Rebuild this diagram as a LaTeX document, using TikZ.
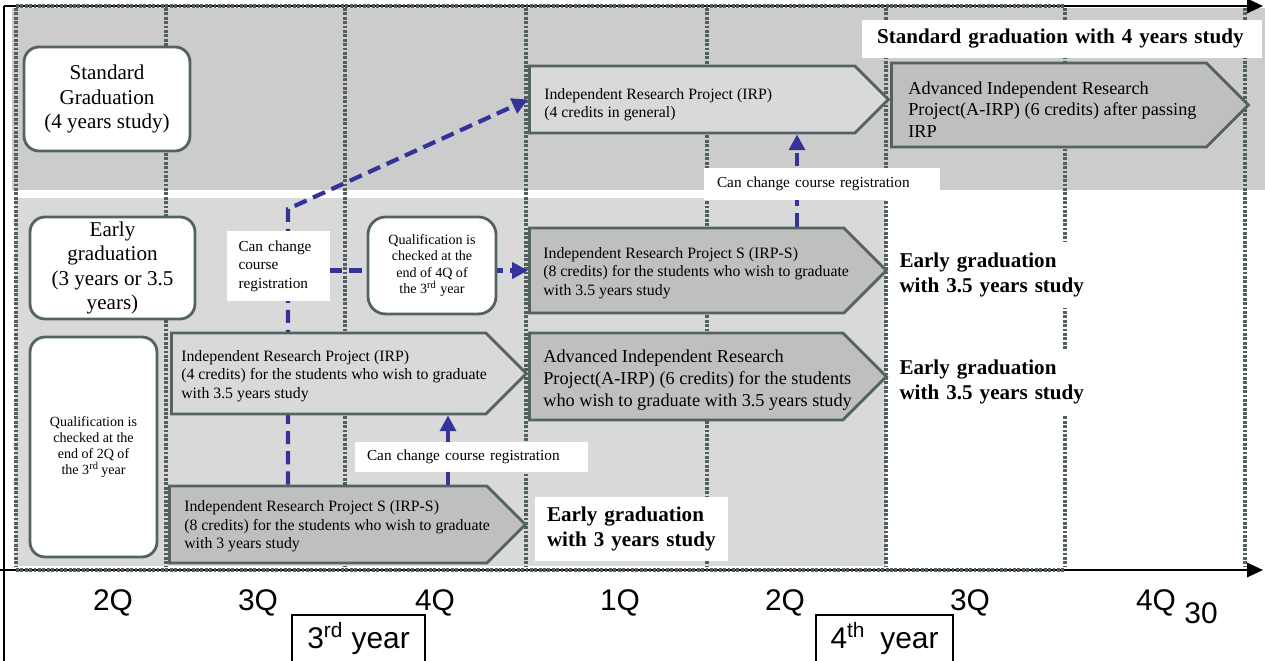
\documentclass[tikz,border=0pt]{standalone}
\usepackage{fontspec}
\setmainfont{Liberation Serif}
\newfontfamily\axisfont{Liberation Sans}
\usetikzlibrary{shapes.symbols,arrows.meta}
\definecolor{band}{RGB}{204,204,204}
\definecolor{lowband}{RGB}{217,217,217}
\definecolor{lightfill}{RGB}{217,217,217}
\definecolor{darkfill}{RGB}{191,191,191}
\definecolor{edge}{RGB}{84,98,98}
\definecolor{dotgray}{RGB}{80,95,95}
\definecolor{linkblue}{RGB}{51,51,153}
\pgfdeclarelayer{back}
\pgfdeclarelayer{mid}
\pgfsetlayers{back,mid,main}
\begin{document}
\begin{tikzpicture}[x=0.02cm, y=-0.02cm,
    qline/.style={draw=dotgray, line width=1.8pt, dash pattern=on 1.6pt off 0.9pt},
    link/.style={color=linkblue, line width=2.4pt, dash pattern=on 7.5pt off 4pt, -{Triangle[width=9pt,length=9pt]}},
    stage/.style={signal, signal to=east, signal pointer angle=90, draw=edge, line width=1.6pt, inner sep=0pt, anchor=west},
    stagetxt/.style={anchor=west, align=left, inner sep=0pt, font=\fontsize{9}{10.5}\selectfont},
    bigtxt/.style={stagetxt, font=\fontsize{10.4}{12.4}\selectfont},
    roundbox/.style={draw=edge, line width=1.6pt, fill=white, rounded corners=0.3cm, align=center, inner sep=0pt, font=\fontsize{12}{13.9}\selectfont},
    qualbox/.style={roundbox, font=\fontsize{8}{9.2}\selectfont},
    wbox/.style={fill=white, align=left, inner ysep=0pt, font=\fontsize{8.7}{10.5}\selectfont},
    goal/.style={wbox, font=\fontsize{12}{14.2}\selectfont\bfseries},
    qlab/.style={font=\axisfont\fontsize{17}{20}\selectfont, inner sep=0pt},
    yearbox/.style={qlab, draw, line width=0.6pt, minimum height=0.96cm}]
  \useasboundingbox (0,0) rectangle (1265,661);
  \begin{pgfonlayer}{back}
    \fill[white] (0,0) rectangle (1265,661);
    \fill[band] (12,8) rectangle (1265,190);
    \fill[lowband] (15,198) rectangle (886,566);
    \foreach \x in {16,166,345,526,707,886,1065,1245} { \draw[qline] (\x,8) -- (\x,567); }
  \end{pgfonlayer}

  % rounded boxes on the left
  \node[roundbox, minimum width=3.32cm, minimum height=2.08cm] (stdbox) at (107,99) {Standard\\Graduation\\(4 years study)};
  \node[roundbox, minimum width=3.3cm, minimum height=2.04cm] (earlybox) at (112.5,268) {Early\\graduation\\(3 years or 3.5\\years)};
  \node[qualbox, minimum width=2.54cm, minimum height=4.4cm] (qual2) at (93.5,447) {Qualification is\\checked at the\\end of 2Q of\\the 3\textsuperscript{rd}\,year};
  \node[qualbox, rounded corners=0.35cm, minimum width=2.56cm, minimum height=1.94cm] (qual4) at (432,265.5) {Qualification is\\checked at the\\end of 4Q of\\the 3\textsuperscript{rd} year};

  % projects
  \node[stage, fill=lightfill, minimum width=7.18cm, minimum height=1.34cm,
    label={[stagetxt, xshift=0.32cm, yshift=-0.1cm]left:{Independent Research Project (IRP)\\(4 credits in general)}}] (irp4) at (528,99.5) {};
  \node[stage, fill=darkfill, minimum width=7.14cm, minimum height=1.68cm,
    label={[bigtxt, xshift=0.36cm, yshift=-0.09cm]left:{Advanced Independent Research\\Project(A-IRP) (6 credits) after passing\\IRP}}] (airp4) at (890,105) {};
  \node[stage, fill=darkfill, minimum width=7.14cm, minimum height=1.7cm,
    label={[stagetxt, xshift=0.3cm, yshift=-0.05cm]left:{Independent Research Project S (IRP-S)\\(8 credits) for the students who wish to graduate\\with 3.5 years study}}] (irps35) at (528,270.5) {};
  \node[stage, fill=darkfill, minimum width=7.14cm, minimum height=1.74cm,
    label={[bigtxt, xshift=0.3cm, yshift=-0.07cm]left:{Advanced Independent Research\\Project(A-IRP) (6 credits) for the students\\who wish to graduate with 3.5 years study}}] (airp35) at (528,376.5) {};
  \node[stage, fill=lightfill, minimum width=7.1cm, minimum height=1.62cm,
    label={[stagetxt, xshift=0.22cm, yshift=-0.05cm]left:{Independent Research Project (IRP)\\(4 credits) for the students who wish to graduate\\with 3.5 years study}}] (irp35) at (170,373.5) {};
  \node[stage, fill=darkfill, minimum width=7.12cm, minimum height=1.54cm,
    label={[stagetxt, xshift=0.32cm, yshift=-0.04cm]left:{Independent Research Project S (IRP-S)\\(8 credits) for the students who wish to graduate\\with 3 years study}}] (irps3) at (168,524.5) {};

  % white notes
  \node[wbox, text width=1.6cm, inner xsep=0.23cm, minimum height=1.4cm] (chg1) at (278.5,266) {Can change\\course\\registration};
  \node[wbox, text width=4.18cm, inner xsep=0.24cm, minimum height=0.6cm] (chg2) at (471.5,457) {Can change course registration};
  \node[wbox, text width=4.2cm, inner xsep=0.26cm, minimum height=0.64cm] (chg3) at (822,184) {Can change course registration};
  \node[goal, text width=7.4cm, inner xsep=0.3cm, minimum height=0.76cm] (std4) at (1062,39) {Standard graduation with 4 years study};
  \node[goal, text width=3.38cm, inner xsep=0.24cm, minimum height=1.28cm] (early3) at (631.5,529) {Early graduation\\with 3 years study};
  \node[goal, text width=3.7cm, inner xsep=0.15cm, minimum height=1.32cm] (early35a) at (992,275) {Early graduation\\with 3.5 years study};
  \node[goal, text width=3.7cm, inner xsep=0.15cm, minimum height=1.32cm] (early35b) at (992,382) {Early graduation\\with 3.5 years study};

  % blue links
  \coordinate (turn) at (288,209);
  \coordinate (up3) at (448,0);
  \coordinate (up35) at (797,0);
  \begin{pgfonlayer}{mid}
    \draw[link] (turn |- irps3.north) -- (turn) -- (irp4.west);
    \draw[link] (turn |- irps35.west) -- (irps35.west);
    \draw[link] (up3 |- irps3.north) -- (up3 |- irp35.south);
    \draw[link] (up35 |- irps35.north) -- (up35 |- irp4.south);
  \end{pgfonlayer}

  % axes
  \draw[line width=1.5pt, -{Triangle[width=8pt,length=9pt]}] (4,6) -- (1263,6);
  \draw[line width=1.5pt] (4,6) -- (4,661);
  \draw[line width=1.5pt, -{Triangle[width=8pt,length=9pt]}] (0,570) -- (1263,570);
  \draw[qline] (16,6) -- (1065,6) (16,570) -- (1065,570);
  \foreach \x/\q in {113/2Q,258/3Q,435/4Q,620/1Q,785/2Q,970/3Q,1156/4Q} { \node[qlab] (q\x) at (\x,603) {\q}; }
  \node[qlab] (page) at (1201,613) {30};
  \node[yearbox, minimum width=2.66cm] (yr3) at (358.5,639) {3\textsuperscript{rd} year};
  \node[yearbox, minimum width=2.74cm] (yr4) at (884.5,639) {4\textsuperscript{th}\enspace year};
\end{tikzpicture}
\end{document}
